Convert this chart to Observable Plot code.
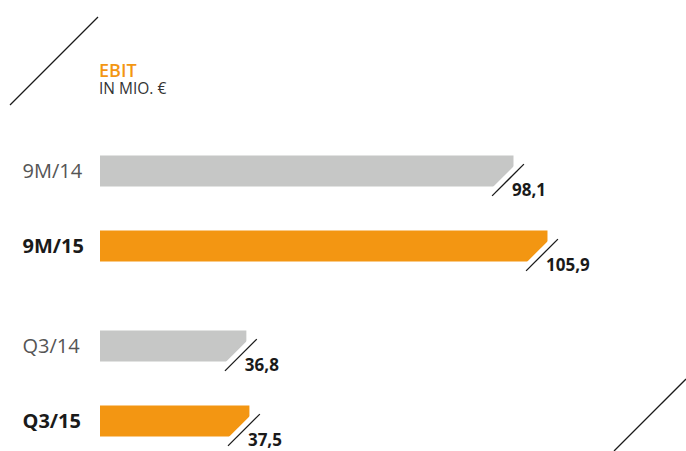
<!DOCTYPE html>
<html><head><meta charset="utf-8">
<script src="https://cdn.jsdelivr.net/npm/d3@7"></script>
<script src="https://cdn.jsdelivr.net/npm/@observablehq/plot@0.6"></script>
<style>
body{margin:0;background:#fff;}
#wrap{position:relative;width:686px;height:451px;font-family:"Open Sans",sans-serif;}
#wrap svg{display:block;}
#deco{position:absolute;left:0;top:0;pointer-events:none;}
</style></head><body><div id="wrap"></div>
<script>
const categories = ["9M/14", "9M/15", "Q3/14", "Q3/15"];
const values = [98.1, 105.9, 36.8, 37.5];
const valueLabels = ["98,1", "105,9", "36,8", "37,5"];
const groups = ["9M", "9M", "Q3", "Q3"];
const years = ["14", "15", "14", "15"];
const titleText = "EBIT";
const subtitleText = "IN MIO. €";

const ORANGE = "#f39612", GRAY = "#c6c7c6", INK = "#1a1a1a";
const data = categories.map((c, i) => ({category: c, value: values[i], label: valueLabels[i], group: groups[i], year: years[i]}));
const groupShift = {"9M": -12.5, "Q3": 12.5};
const line = {draw(ctx, l) { ctx.moveTo(0, 0); ctx.lineTo(0, -l); }};

function groupMarks(g) {
  const d = data.filter(r => r.group === g);
  const dy = groupShift[g];
  return [
    Plot.barX(d, {x: "value", y: "category", fill: "year", insetLeft: 14, dy}),
    Plot.vector(d, {x: "value", y: "category", length: 44, rotate: 45, anchor: "middle", shape: line,
      stroke: "white", strokeWidth: 16, strokeLinecap: "butt", dx: -4.9, dy: dy + 10.6}),
    Plot.vector(d, {x: "value", y: "category", length: 45, rotate: 45, anchor: "middle", shape: line,
      stroke: INK, strokeWidth: 1.3, strokeLinecap: "butt", dx: -6, dy: dy + 8.5}),
    Plot.text(d, {x: "value", y: "category", text: "label", textAnchor: "start", dx: -2, dy: dy + 19,
      fontSize: 17, fontWeight: 700, fill: INK, fontFamily: "Open Sans"}),
    Plot.text(d.filter(r => r.year === "14"), {y: "category", text: "category", frameAnchor: "left", textAnchor: "start",
      dx: -64, dy, fontSize: 20, fontWeight: 400, fill: "#555", fontFamily: "Open Sans"}),
    Plot.text(d.filter(r => r.year === "15"), {y: "category", text: "category", frameAnchor: "left", textAnchor: "start",
      dx: -64, dy, fontSize: 20, fontWeight: 700, fill: INK, fontFamily: "Open Sans"})
  ];
}

const chart = Plot.plot({
  width: 686,
  height: 451,
  marginLeft: 86,
  marginRight: 33.5,
  marginTop: 167.5,
  marginBottom: 26,
  style: {background: "white", fontFamily: "Open Sans"},
  x: {domain: [0, 130], axis: null},
  y: {domain: categories, paddingInner: 0.589, paddingOuter: 0, axis: null},
  color: {domain: ["14", "15"], range: [GRAY, ORANGE]},
  marks: [...groupMarks("9M"), ...groupMarks("Q3")]
});
const wrap = document.getElementById("wrap");
wrap.appendChild(chart);

const deco = d3.select(wrap).append("svg").attr("id", "deco").attr("width", 686).attr("height", 451);
deco.append("line").attr("x1", 10).attr("y1", 105).attr("x2", 98).attr("y2", 17).attr("stroke", INK).attr("stroke-width", 1.3);
deco.append("line").attr("x1", 614).attr("y1", 451).attr("x2", 686).attr("y2", 379).attr("stroke", INK).attr("stroke-width", 1.3);
const t = deco.append("text").attr("x", 99).attr("y", 77).attr("font-family", "Open Sans");
t.append("tspan").attr("x", 99).attr("y", 77).attr("font-size", 18).attr("font-weight", 600).attr("fill", ORANGE).text(titleText);
t.append("tspan").attr("x", 99).attr("y", 94).attr("font-size", 15.5).attr("font-weight", 400).attr("fill", "#333").text(subtitleText);
</script></body></html>
